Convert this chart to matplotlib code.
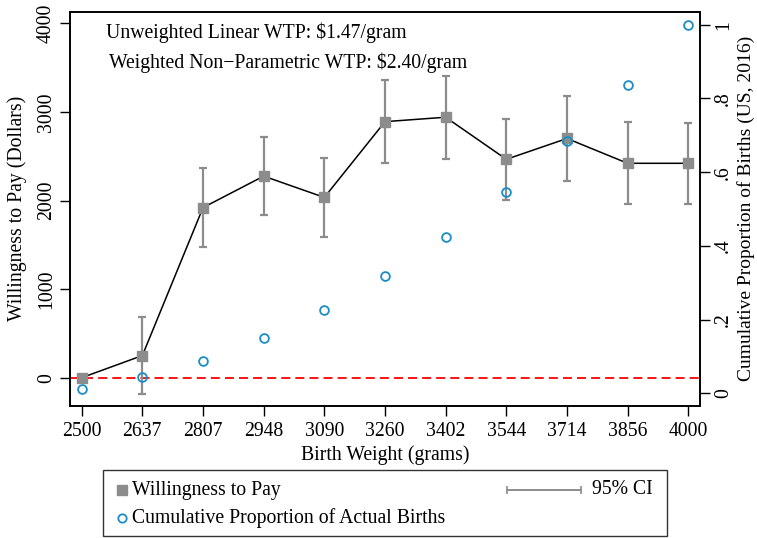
import numpy as np
import matplotlib
matplotlib.use("Agg")
import matplotlib.pyplot as plt
from matplotlib.patches import Rectangle

plt.rcParams["font.family"] = ["Liberation Serif", "DejaVu Serif"]

weights = ["2500", "2637", "2807", "2948", "3090", "3260", "3402", "3544", "3714", "3856", "4000"]
wtp = [0, 250, 1920, 2275, 2035, 2890, 2940, 2465, 2700, 2420, 2420]
ci_low = [np.nan, -185, 1480, 1835, 1590, 2425, 2465, 2010, 2225, 1955, 1955]
ci_high = [np.nan, 685, 2365, 2715, 2485, 3360, 3410, 2915, 3180, 2885, 2880]
cum_share = [0.012, 0.043, 0.088, 0.150, 0.226, 0.317, 0.424, 0.545, 0.684, 0.836, 1.0]

GREY = "#8c8c8c"
BLUE = "#1a8cc8"
W, H = 757, 538
FS = 14.2

fig = plt.figure(figsize=(W / 100, H / 100), dpi=100)
ax = fig.add_axes([70 / W, 1 - 405.7 / H, 630 / W, 394 / H])
ax2 = ax.twinx()

x = np.arange(len(weights))
wtp = np.array(wtp, dtype=float)
lo = np.array(ci_low, dtype=float)
hi = np.array(ci_high, dtype=float)

ax.axhline(0, color="red", lw=1.3, linestyle=(0, (5, 2.8)), zorder=1)
ax.errorbar(x, wtp, yerr=[wtp - lo, hi - wtp], fmt="none", ecolor=GREY,
            elinewidth=1.6, capsize=2.6, capthick=1.6, zorder=2)
ax.plot(x, wtp, color="black", lw=1.1, zorder=3)
ax.plot(x, wtp, "s", color=GREY, markersize=7.7, zorder=4)
ax2.plot(x, cum_share, "o", mfc="none", mec=BLUE, mew=1.3, markersize=6.3, zorder=5)

ax.set_xlim(-0.193, 10.193)
ax.set_ylim(-316, 4131)
ax2.set_ylim(-0.0336, 1.0355)

ax.set_xticks(x)
ax.set_xticklabels(weights)
ax.set_yticks([0, 1000, 2000, 3000, 4000])
ax.set_yticklabels(["0", "1000", "2000", "3000", "4000"], rotation=90, va="center")
ax2.set_yticks([0, 0.2, 0.4, 0.6, 0.8, 1.0])
ax2.set_yticklabels(["0", ".2", ".4", ".6", ".8", "1"], rotation=90, va="center")

for a in (ax, ax2):
    a.tick_params(labelsize=FS, length=7, width=1.0, pad=3)
    for s in a.spines.values():
        s.set_linewidth(1.2)
ax.tick_params(axis="x", pad=5)

ax.set_xlabel("Birth Weight (grams)", fontsize=FS, labelpad=3)
ax.set_ylabel("Willingness to Pay (Dollars)", fontsize=FS, labelpad=7)
ax2.set_ylabel("Cumulative Proportion of Births (US, 2016)", fontsize=14, labelpad=3)
ax2.set_zorder(ax.get_zorder() + 1)
ax2.patch.set_visible(False)

ax.text(105.7 / W, 1 - 33 / H, "Unweighted Linear WTP: $1.47/gram", transform=fig.transFigure,
        fontsize=FS, va="center", ha="left")
ax.text(109.3 / W, 1 - 63 / H, "Weighted Non\u2212Parametric WTP: $2.40/gram", transform=fig.transFigure,
        fontsize=FS, va="center", ha="left")

# legend drawn in pixel coordinates
lg = fig.add_axes([0, 0, 1, 1])
lg.set_xlim(0, W)
lg.set_ylim(H, 0)
lg.axis("off")
lg.add_patch(Rectangle((103.3, 470), 564, 65.5, fill=False, ec="#333333", lw=1.0))
lg.plot([121.7], [490], "s", color=GREY, markersize=7.5)
lg.plot([121.7], [517.7], "o", mfc="none", mec=BLUE, mew=1.3, markersize=6)
lg.plot([506.7, 580.7], [490, 490], color=GREY, lw=1.4)
lg.plot([506.7, 580.7], [490, 490], "|", color=GREY, markersize=6, mew=1.2)
lg.text(131.7, 490, "Willingness to Pay", fontsize=FS, va="center", ha="left")
lg.text(131.7, 517.7, "Cumulative Proportion of Actual Births", fontsize=FS, va="center", ha="left")
lg.text(591.7, 490, "95% CI", fontsize=FS, va="center", ha="left")

fig.savefig("out.png", dpi=100)
